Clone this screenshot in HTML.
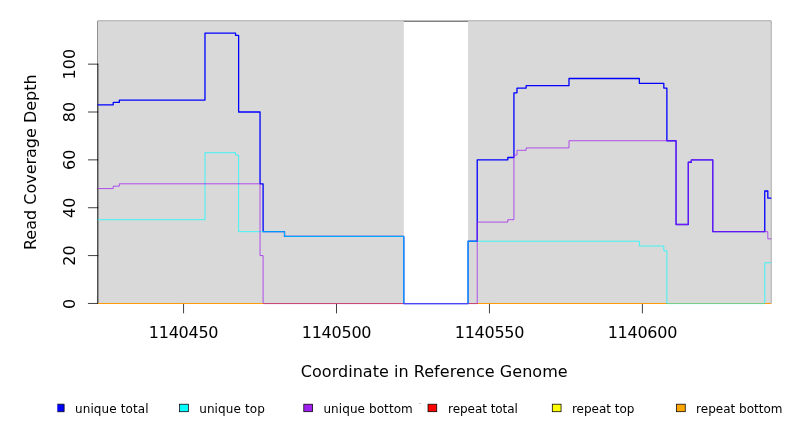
<!DOCTYPE html>
<html><head><meta charset="utf-8"><title>Read Coverage Depth</title>
<style>
html,body{margin:0;padding:0;background:#fff;}
svg{display:block;}
text{font-family:"DejaVu Sans","Liberation Sans",sans-serif;fill:#000;}
.ax{font-size:16px;}
.xt{letter-spacing:-0.26px;}
.lg{font-size:12px;}
</style></head><body>
<svg width="792" height="432" viewBox="0 0 792 432">
<rect x="0" y="0" width="792" height="432" fill="#fff"/>
<!-- plot box (mostly hidden beneath shaded regions) -->
<rect x="97.92" y="21.12" width="672.96" height="282.24" fill="none" stroke="#000" stroke-width="0.75"/>
<!-- shaded regions -->
<rect x="97.92" y="21.12" width="305.89" height="282.24" fill="#d9d9d9"/>
<rect x="468.05" y="21.12" width="302.83" height="282.24" fill="#d9d9d9"/>
<!-- y axis -->
<g stroke="#000" stroke-width="0.75" fill="none" stroke-linecap="round">
<path d="M97.92 303.45V64.15"/>
<path d="M97.92 303.45H88.32M97.92 255.59H88.32M97.92 207.73H88.32M97.92 159.87H88.32M97.92 112.01H88.32M97.92 64.15H88.32"/>
<path d="M183.57 303.36V312.96M336.51 303.36V312.96M489.46 303.36V312.96M642.40 303.36V312.96"/>
</g>
<!-- data series -->
<g fill="none" stroke-linejoin="round" stroke-linecap="round">
<path d="M97.92 104.83H113.21V102.44H119.33V100.05H204.98V33.04H235.57V35.43H238.63V112.01H260.04V183.80H263.10V231.66H284.51V236.45H403.81V303.60H468.05V241.23H477.22V159.87H507.81V157.48H513.93V92.87H516.99V88.08H526.17V85.69H568.99V78.51H639.35V83.29H663.82V88.08H666.88V140.73H676.05V224.48H688.29V162.26H691.35V159.87H712.76V231.66H764.76V190.98H767.82V198.16H770.88" stroke="#0000ff" stroke-width="1.3"/>
<path d="M97.92 219.69H204.98V152.69H235.57V155.08H238.63V231.66H284.51V236.45H403.81V303.60H468.05V241.23H639.35V246.02H663.82V250.80H666.88V303.60H764.76V262.77H770.88" stroke="#00ffff" stroke-width="0.7"/>
<path d="M97.92 188.59H113.21V186.19H119.33V183.80H260.04V255.59H263.10V303.60H477.22V222.09H507.81V219.69H513.93V155.08H516.99V150.30H526.17V147.91H568.99V140.73H676.05V224.48H688.29V162.26H691.35V159.87H712.76V231.66H767.82V238.84H770.88" stroke="#a020f0" stroke-width="0.75"/>
</g>
<!-- zero baseline (repeat total / repeat top / repeat bottom all zero) -->
<g>
<rect x="98" y="303" width="165" height="1" fill="#ff9b0a"/>
<rect x="263" y="303" width="140" height="1" fill="#c84878"/>
<rect x="403" y="303" width="66" height="1" fill="#5046f5"/>
<rect x="469" y="303" width="9" height="1" fill="#c84878"/>
<rect x="478" y="303" width="188.5" height="1" fill="#ff9b0a"/>
<rect x="666.5" y="303" width="98.5" height="1" fill="#78cd87"/>
<rect x="765" y="303" width="6" height="1" fill="#ff9b0a"/>
</g>
<!-- tick labels -->
<g class="ax" text-anchor="middle">
<text class="xt" x="183.57" y="337.8">1140450</text>
<text class="xt" x="336.51" y="337.8">1140500</text>
<text class="xt" x="489.46" y="337.8">1140550</text>
<text class="xt" x="642.40" y="337.8">1140600</text>
<text transform="translate(74.6 303.95) rotate(-90)">0</text>
<text transform="translate(74.6 255.59) rotate(-90)">20</text>
<text transform="translate(74.6 207.73) rotate(-90)">40</text>
<text transform="translate(74.6 159.87) rotate(-90)">60</text>
<text transform="translate(74.6 112.01) rotate(-90)">80</text>
<text transform="translate(74.6 64.15) rotate(-90)">100</text>
<text x="434.2" y="377" textLength="266.8">Coordinate in Reference Genome</text>
<text transform="translate(35.5 162.2) rotate(-90)">Read Coverage Depth</text>
</g>
<!-- legend -->
<g stroke="#000" stroke-width="0.75">
<rect x="57.3" y="404.2" width="6.85" height="7.5" fill="#0000ff" stroke="none"/>
<path d="M57.3 404.2H64.15V411.7H57.3" fill="none"/>
<rect x="179.6" y="404.2" width="8.75" height="7.5" fill="#00ffff"/>
<rect x="303.8" y="404.2" width="8.75" height="7.5" fill="#a020f0"/>
<rect x="428.0" y="404.2" width="8.75" height="7.5" fill="#ff0000"/>
<rect x="552.3" y="404.2" width="8.75" height="7.5" fill="#ffff00"/>
<rect x="676.5" y="404.2" width="8.75" height="7.5" fill="#ffa500"/>
</g>
<rect x="419" y="403" width="2" height="1" fill="#cccccc"/>
<g class="lg">
<text x="75.0" y="412.8" textLength="73.5">unique total</text>
<text x="199.2" y="412.8" textLength="65.6">unique top</text>
<text x="323.4" y="412.8" textLength="89.4">unique bottom</text>
<text x="448.1" y="412.8" textLength="69.8">repeat total</text>
<text x="571.9" y="412.8">repeat top</text>
<text x="696.1" y="412.8">repeat bottom</text>
</g>
</svg>
</body></html>
